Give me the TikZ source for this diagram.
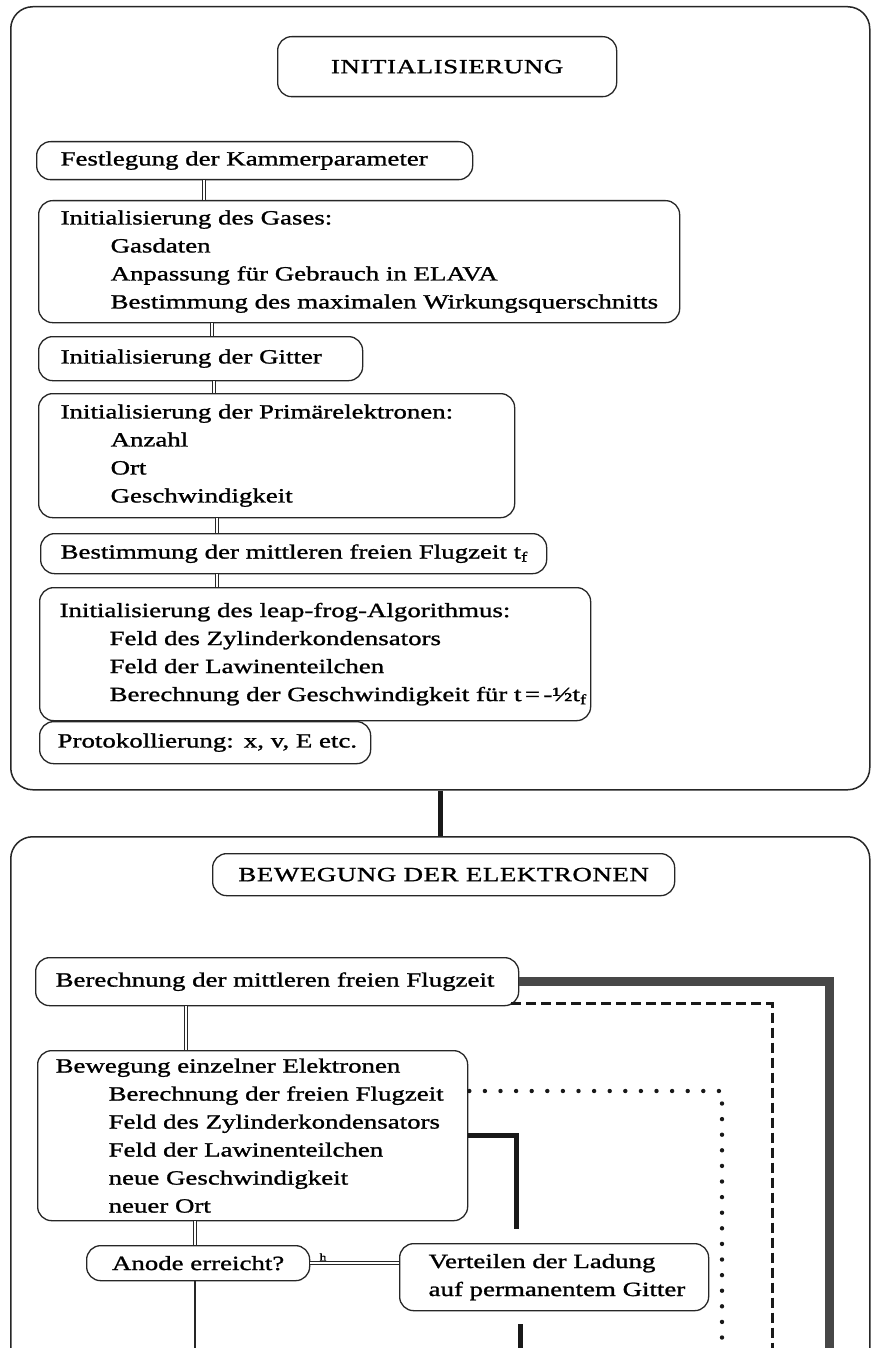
\documentclass[tikz,border=0pt]{standalone}
\usepackage{fontspec}
\setmainfont[FakeStretch=1.33,FakeBold=1.2]{Liberation Serif}
\usetikzlibrary{calc}
\begin{document}
\begin{tikzpicture}[x=1pt,y=-1pt,
  outer/.style={draw=black!85, line width=1.5pt, rounded corners=22pt, anchor=north west, inner sep=0pt},
  tb/.style={draw=black!85, line width=1.3pt, rounded corners=14pt, anchor=north west, inner ysep=0pt, align=left,
     font=\fontsize{20.2}{28}\selectfont},
  cb/.style={draw=black!85, line width=1.3pt, rounded corners=14pt, anchor=north west, inner sep=0pt, align=center,
     font=\fontsize{20.2}{28}\selectfont\addfontfeatures{LetterSpace=3}},
  dbl/.style={draw=black!85, line width=0.8pt, double=white, double distance=2.4pt},
  heavy/.style={draw=black!90, line width=5pt},
  grayheavy/.style={draw=black!72, line width=9pt},
  dashedl/.style={draw=black!90, line width=3pt, dash pattern=on 10pt off 5pt},
  dotl/.style={draw=black!90, line width=4.4pt, line cap=round, dash pattern=on 0pt off 15.6pt},
  single/.style={draw=black!85, line width=1.1pt}
]
\useasboundingbox (0,0) rectangle (873,1348);
\fill[white] (0,0) rectangle (873,1348);
\clip (0,0) rectangle (873,1348);

% outer frames
\node[outer, minimum width=859, minimum height=783] (outer1) at (10,6) {};
\node[outer, minimum width=859, minimum height=700] (outer2) at (10,836) {};

% first section
\node[cb, minimum width=339, minimum height=60] (init) at (277,36) {INITIALISIERUNG};
\node[tb, inner xsep=24pt, text width=388pt, minimum height=38] (fest) at (36,141) {Festlegung der Kammerparameter};
\node[tb, inner xsep=22pt, text width=597pt, minimum height=122] (gases) at (38,200)
  {Initialisierung des Gases:\\
   \hspace*{50pt}Gasdaten\\
   \hspace*{50pt}Anpassung für Gebrauch in ELAVA\\
   \hspace*{50pt}\mbox{Bestimmung des maximalen Wirkungsquerschnitts}};
\node[tb, inner xsep=22pt, text width=280pt, minimum height=44] (gitter) at (38,336) {Initialisierung der Gitter};
\node[tb, inner xsep=22pt, text width=432pt, minimum height=124] (prim) at (38,393)
  {\mbox{Initialisierung der Primärelektronen:}\\
   \hspace*{50pt}Anzahl\\
   \hspace*{50pt}Ort\\
   \hspace*{50pt}Geschwindigkeit};
\node[tb, inner xsep=20pt, text width=466pt, minimum height=40] (best) at (40,533) {\mbox{Bestimmung der mittleren freien Flugzeit t\textsubscript{f}}};
\node[tb, inner xsep=20pt, text width=511pt, minimum height=133] (leap) at (39,587)
  {Initialisierung des leap-frog-Algorithmus:\\
   \hspace*{50pt}Feld des Zylinderkondensators\\
   \hspace*{50pt}Feld der Lawinenteilchen\\
   \hspace*{50pt}\mbox{Berechnung der Geschwindigkeit für t\,=\,-½t\textsubscript{f}}};
\node[tb, inner xsep=18pt, text width=295pt, minimum height=42] (prot) at (39,721) {\mbox{Protokollierung:\enspace x, v, E etc.}};

% second section
\node[cb, minimum width=462, minimum height=42] (bewt) at (212,853) {BEWEGUNG DER ELEKTRONEN};
\node[tb, inner xsep=20pt, text width=443pt, minimum height=48] (ber) at (35,957) {\mbox{Berechnung der mittleren freien Flugzeit}};
\node[tb, inner xsep=18pt, text width=394pt, minimum height=170] (bewE) at (37,1050)
  {Bewegung einzelner Elektronen\\
   \hspace*{53pt}Berechnung der freien Flugzeit\\
   \hspace*{53pt}Feld des Zylinderkondensators\\
   \hspace*{53pt}Feld der Lawinenteilchen\\
   \hspace*{53pt}neue Geschwindigkeit\\
   \hspace*{53pt}neuer Ort};
\node[cb, minimum width=223, minimum height=35, font=\fontsize{20.2}{28}\selectfont] (anode) at (86,1245) {Anode erreicht?};
\node[tb, inner xsep=29pt, text width=251pt, minimum height=67] (vert) at (399,1243)
  {Verteilen der Ladung\\\mbox{auf permanentem Gitter}};

% helper coordinates
\coordinate (k1) at (204,0);
\coordinate (k2) at (212,0);
\coordinate (k3) at (214,0);
\coordinate (k4) at (217,0);
\coordinate (k5) at (186,0);
\coordinate (k6) at (195,0);
\coordinate (aend) at (195,1350);
\coordinate (gend) at (829,1350);
\coordinate (dend) at (772,1350);
\coordinate (oend) at (722,1350);
\coordinate (bend) at (516,1229);
\coordinate (b2) at (520,0);
\coordinate (b2end) at (520,1350);

% connectors, first section
\draw[dbl] (fest.south -| k1) -- (gases.north -| k1);
\draw[dbl] (gases.south -| k2) -- (gitter.north -| k2);
\draw[dbl] (gitter.south -| k3) -- (prim.north -| k3);
\draw[dbl] (prim.south -| k4) -- (best.north -| k4);
\draw[dbl] (best.south -| k4) -- (leap.north -| k4);
\draw[heavy] (outer1.south) -- (outer2.north);

% connectors, second section
\draw[dbl] (ber.south -| k5) -- (bewE.north -| k5);
\draw[dbl] (bewE.south -| k6) -- (anode.north -| k6);
\draw[single] (anode.south -| k6) -- (aend);
\draw[dbl] (anode.east) -- (anode.east -| vert.west);
\node[font=\fontsize{10}{10}\selectfont, inner sep=0pt] (hmark) at (323,1257) {h};
\draw[grayheavy] (ber.east) -| (gend);
\draw[dashedl] ($(ber.south east)+(-8,-3)$) -| (dend);
\draw[dotl] ($(bewE.north east)+(1,41)$) -| (oend);
\draw[heavy] (bewE.east) -| (bend);
\draw[heavy] ($(vert.south -| b2)+(0,13)$) -- (b2end);
\end{tikzpicture}
\end{document}
